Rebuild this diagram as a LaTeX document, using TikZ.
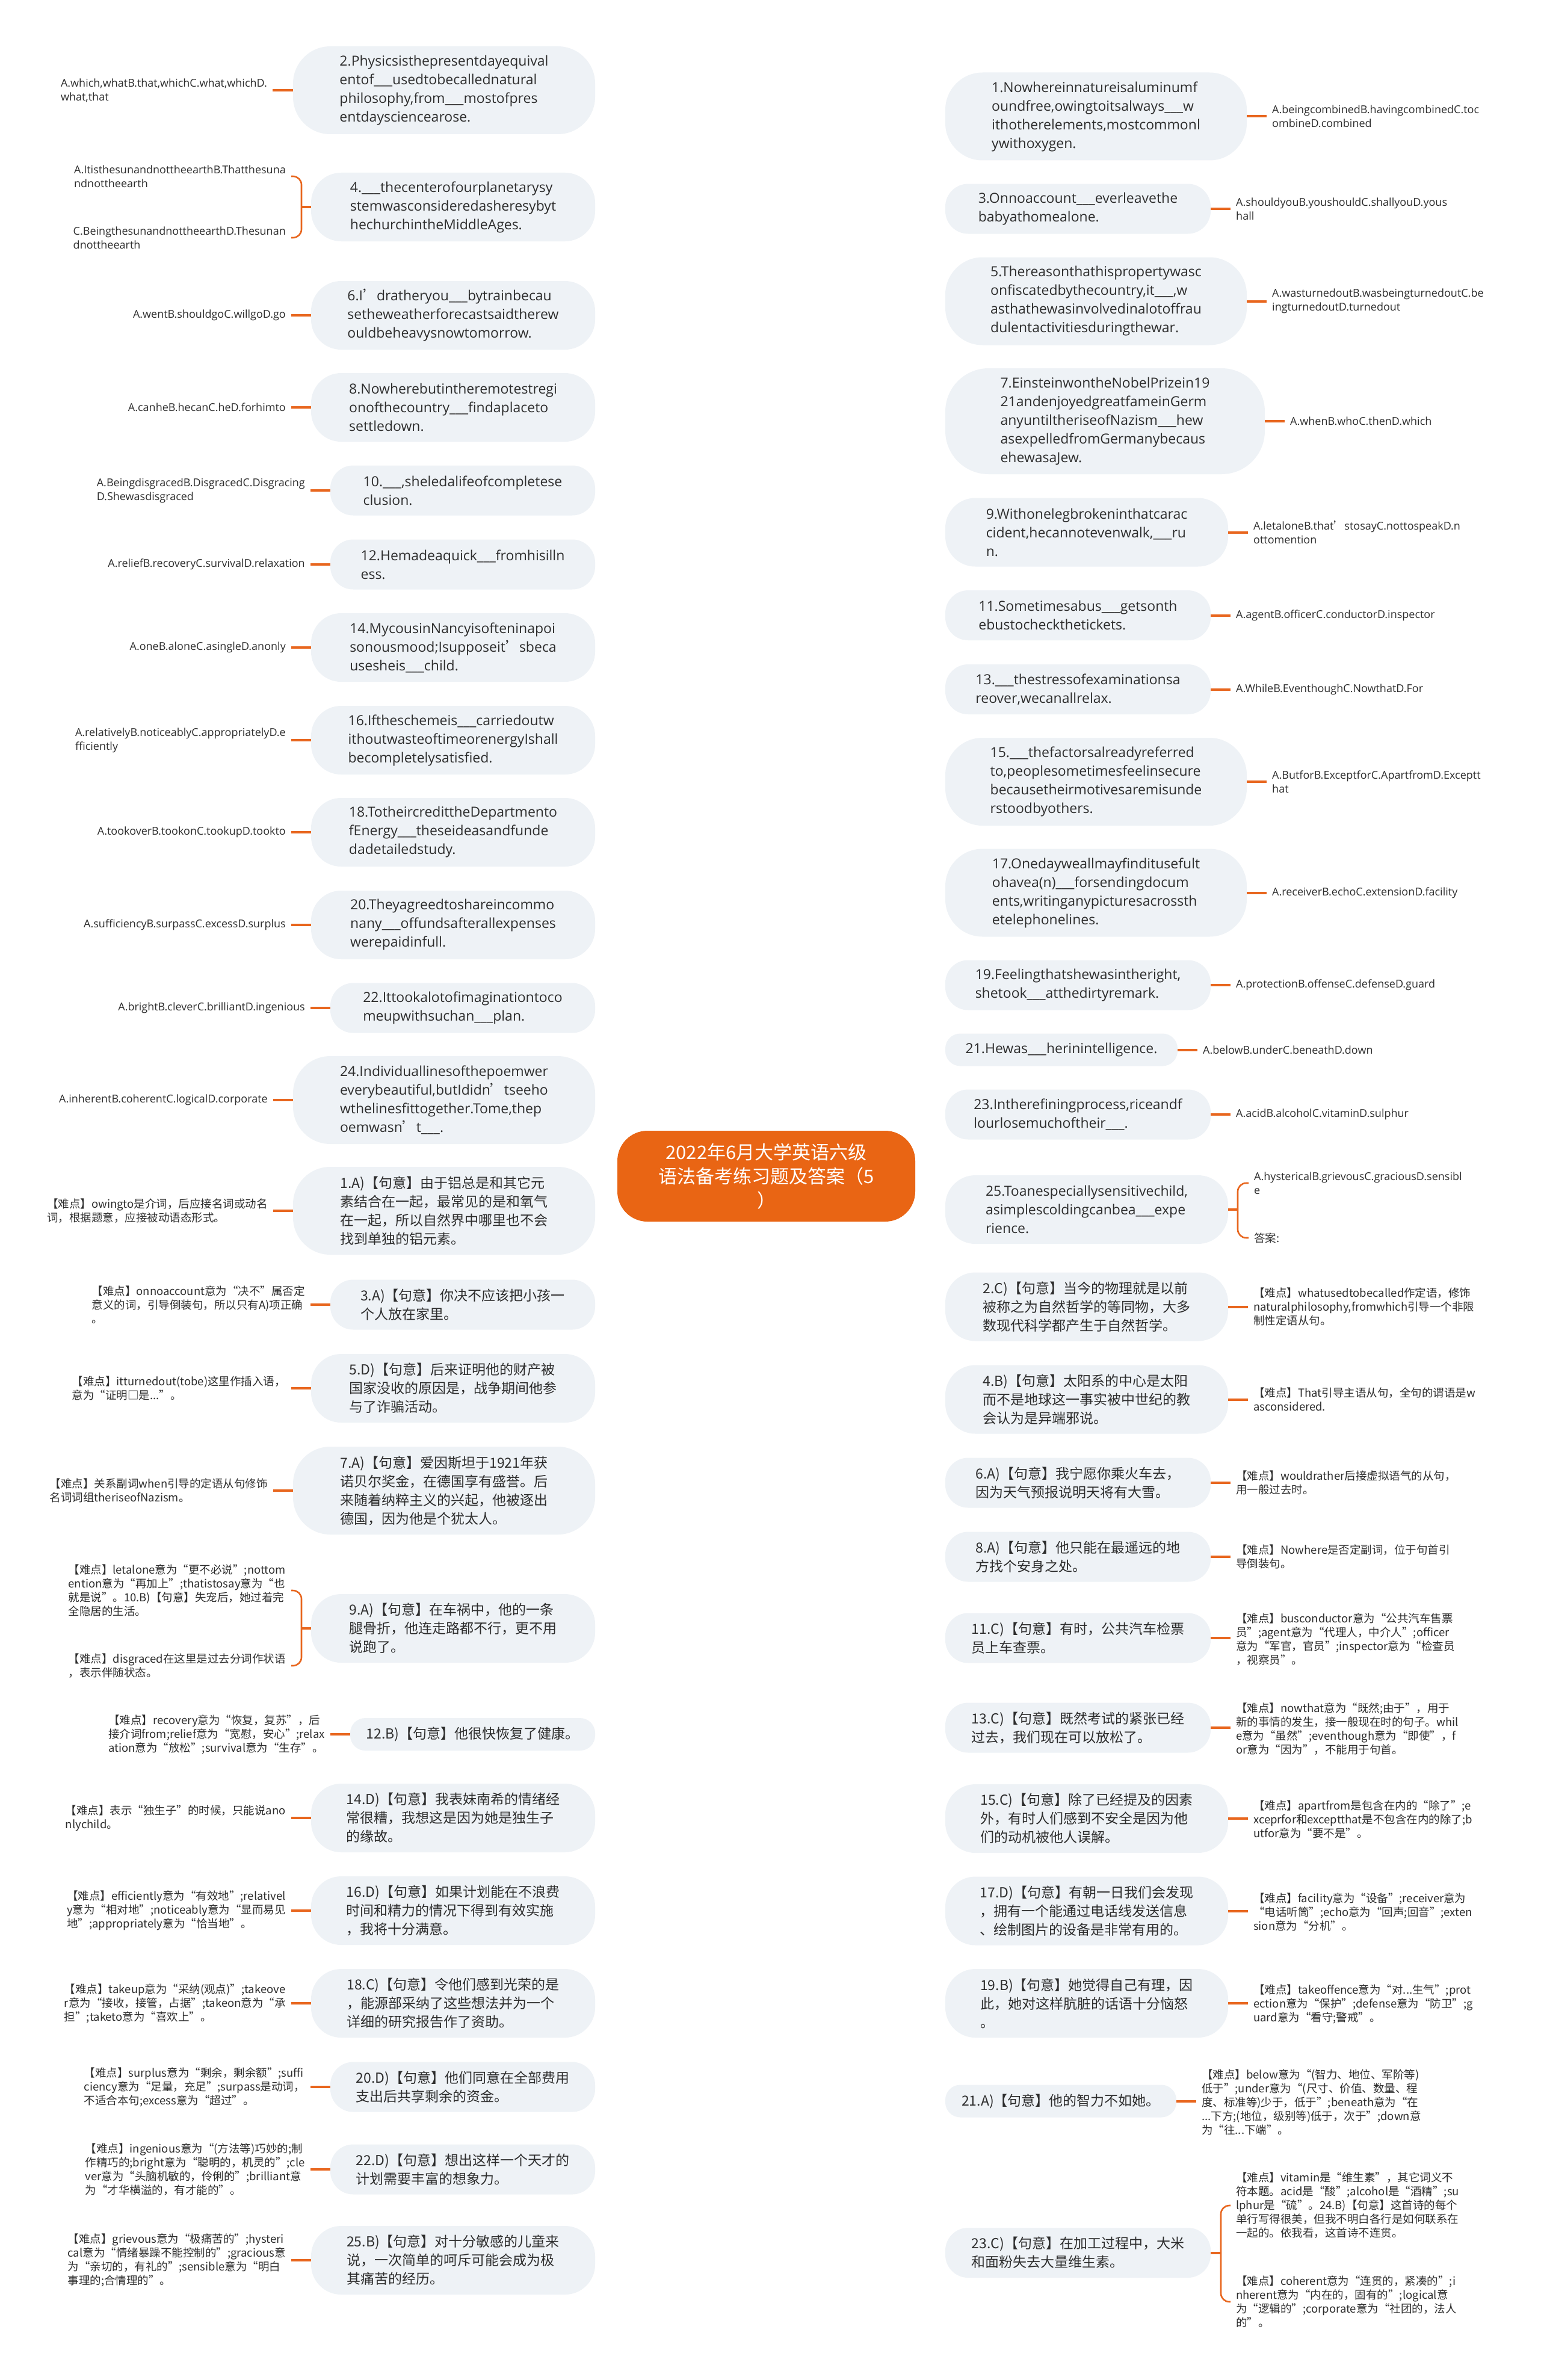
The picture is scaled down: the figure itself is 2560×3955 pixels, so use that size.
\documentclass[tikz,border=0pt]{standalone}
\usepackage{fontspec}
\setmainfont{Noto Sans CJK SC}
\newfontfamily\lat{Open Sans}
\usetikzlibrary{backgrounds}
\definecolor{orange1}{RGB}{232,102,30}
\definecolor{cfill}{RGB}{233,101,20}
\definecolor{boxgray}{RGB}{238,242,246}
\definecolor{txt}{RGB}{45,45,45}
\newcommand\bl{\_\_\_}
\newcommand\ap{{\rmfamily ’}}
\tikzset{
 box/.style={fill=boxgray, draw=none, align=left, text=txt, inner sep=0pt},
 Lone/.style={minimum height=54pt, rounded corners=25pt},
 Ltwo/.style={minimum height=83pt, rounded corners=38pt},
 Lthree/.style={minimum height=114pt, rounded corners=50pt},
 Lfour/.style={minimum height=146pt, rounded corners=62pt},
 Lfive/.style={minimum height=176pt, rounded corners=72pt},
 qf/.style={font=\lat\fontsize{23}{31}\selectfont},
 af/.style={font=\fontsize{23}{31}\selectfont},
 leaf/.style={text=txt, align=left, inner sep=9pt, font=\fontsize{18.5}{23}\selectfont},
 leafq/.style={leaf, font=\lat\fontsize{18}{23}\selectfont},
 branch/.style={draw=orange1, line width=2.6pt},
 stub/.style={draw=orange1, line width=4pt},
 bracel/.style={draw=orange1, line width=2.6pt, rounded corners=14pt},
}
\begin{document}
\begin{tikzpicture}[x=1pt,y=-1pt]
\fill[white] (0,0) rectangle (2560,3955);
\useasboundingbox (0,0) rectangle (2560,3955);

% central node
\node[fill=cfill, text=white, rounded corners=50pt, minimum width=495pt, minimum height=151pt, align=center, inner sep=0pt, font=\fontsize{31}{40}\selectfont] (c) at (1273.5,1954.5) {2022年6月大学英语六级\\语法备考练习题及答案（5\\）};
\coordinate (hubL) at (1110,1955);
\coordinate (hubR) at (1440,1955);

% ---------------- left questions ----------------
\node[box,Lfour,qf,minimum width=502pt] (q2) at (738,150) {2.Physicsisthepresentdayequival\\entof\bl usedtobecallednatural\\philosophy,from\bl mostofpres\\entdaysciencearose.};
\node[leafq,anchor=east] (q2t) at (453,150) {A.which,whatB.that,whichC.what,whichD.\\what,that};
\draw[stub] (q2t.east) -- (q2.west);

\node[box,Lthree,qf,minimum width=472pt] (q4) at (753,344) {4.\bl thecenterofourplanetarysy\\stemwasconsideredasheresybyt\\hechurchintheMiddleAges.};
\node[leafq,anchor=east] (q4a) at (484,293) {A.ItisthesunandnottheearthB.Thatthesuna\\ndnottheearth};
\node[leafq,anchor=east] (q4b) at (484,395) {C.BeingthesunandnottheearthD.Thesunan\\dnottheearth};
\coordinate (q4j) at (501,344);
\draw[stub] (q4j) -- (q4.west);
\draw[bracel] (q4a.east) -| (q4j) |- (q4b.east);

\node[box,Lthree,qf,minimum width=472pt] (q6) at (753,524) {6.I\ap dratheryou\bl bytrainbecau\\setheweatherforecastsaidtherew\\ouldbeheavysnowtomorrow.};
\node[leafq,anchor=east] (q6t) at (484,524) {A.wentB.shouldgoC.willgoD.go};
\draw[stub] (q6t.east) -- (q6.west);

\node[box,Lthree,qf,minimum width=472pt] (q8) at (753,677) {8.Nowherebutintheremotestregi\\onofthecountry\bl findaplaceto\\settledown.};
\node[leafq,anchor=east] (q8t) at (484,677) {A.canheB.hecanC.heD.forhimto};
\draw[stub] (q8t.east) -- (q8.west);

\node[box,Ltwo,qf,minimum width=440pt] (q10) at (769,815) {10.\bl,sheledalifeofcompletese\\clusion.};
\node[leafq,anchor=east] (q10t) at (516,815) {A.BeingdisgracedB.DisgracedC.Disgracing\\D.Shewasdisgraced};
\draw[stub] (q10t.east) -- (q10.west);

\node[box,Ltwo,qf,minimum width=440pt] (q12) at (769,938) {12.Hemadeaquick\bl fromhisilln\\ess.};
\node[leafq,anchor=east] (q12t) at (516,938) {A.reliefB.recoveryC.survivalD.relaxation};
\draw[stub] (q12t.east) -- (q12.west);

\node[box,Lthree,qf,minimum width=472pt] (q14) at (753,1076) {14.MycousinNancyisofteninapoi\\sonousmood;Isupposeit\ap sbeca\\usesheis\bl child.};
\node[leafq,anchor=east] (q14t) at (484,1076) {A.oneB.aloneC.asingleD.anonly};
\draw[stub] (q14t.east) -- (q14.west);

\node[box,Lthree,qf,minimum width=472pt] (q16) at (753,1230) {16.Iftheschemeis\bl carriedoutw\\ithoutwasteoftimeorenergyIshall\\becompletelysatisfied.};
\node[leafq,anchor=east] (q16t) at (484,1230) {A.relativelyB.noticeablyC.appropriatelyD.e\\fficiently};
\draw[stub] (q16t.east) -- (q16.west);

\node[box,Lthree,qf,minimum width=472pt] (q18) at (753,1383) {18.TotheircredittheDepartmento\\fEnergy\bl theseideasandfunde\\dadetailedstudy.};
\node[leafq,anchor=east] (q18t) at (484,1383) {A.tookoverB.tookonC.tookupD.tookto};
\draw[stub] (q18t.east) -- (q18.west);

\node[box,Lthree,qf,minimum width=472pt] (q20) at (753,1537) {20.Theyagreedtoshareincommo\\nany\bl offundsafterallexpenses\\werepaidinfull.};
\node[leafq,anchor=east] (q20t) at (484,1537) {A.sufficiencyB.surpassC.excessD.surplus};
\draw[stub] (q20t.east) -- (q20.west);

\node[box,Ltwo,qf,minimum width=440pt] (q22) at (769,1675) {22.Ittookalotofimaginationtoco\\meupwithsuchan\bl plan.};
\node[leafq,anchor=east] (q22t) at (516,1675) {A.brightB.cleverC.brilliantD.ingenious};
\draw[stub] (q22t.east) -- (q22.west);

\node[box,Lfour,qf,minimum width=502pt] (q24) at (738,1828) {24.Individuallinesofthepoemwer\\everybeautiful,butIdidn\ap tseeho\\wthelinesfittogether.Tome,thep\\oemwasn\ap t\bl.};
\node[leafq,anchor=east] (q24t) at (454,1828) {A.inherentB.coherentC.logicalD.corporate};
\draw[stub] (q24t.east) -- (q24.west);

% ---------------- left answers ----------------
\node[box,Lfour,af,minimum width=502pt] (a1) at (738,2012) {1.A)【句意】由于铝总是和其它元\\素结合在一起，最常见的是和氧气\\在一起，所以自然界中哪里也不会\\找到单独的铝元素。};
\node[leaf,anchor=east] (a1t) at (454,2012) {【难点】owingto是介词，后应接名词或动名\\词，根据题意，应接被动语态形式。};
\draw[stub] (a1t.east) -- (a1.west);

\node[box,Ltwo,af,minimum width=440pt] (a3) at (769,2168) {3.A)【句意】你决不应该把小孩一\\个人放在家里。};
\node[leaf,anchor=east] (a3t) at (516,2168) {【难点】onnoaccount意为“决不”属否定\\意义的词，引导倒装句，所以只有A)项正确\\。};
\draw[stub] (a3t.east) -- (a3.west);

\node[box,Lthree,af,minimum width=472pt] (a5) at (753,2307) {5.D)【句意】后来证明他的财产被\\国家没收的原因是，战争期间他参\\与了诈骗活动。};
\node[leaf,anchor=east] (a5t) at (484,2307) {【难点】itturnedout(tobe)这里作插入语，\\意为“证明□是...”。};
\draw[stub] (a5t.east) -- (a5.west);

\node[box,Lfour,af,minimum width=502pt] (a7) at (738,2477) {7.A)【句意】爱因斯坦于1921年获\\诺贝尔奖金，在德国享有盛誉。后\\来随着纳粹主义的兴起，他被逐出\\德国，因为他是个犹太人。};
\node[leaf,anchor=east] (a7t) at (454,2477) {【难点】关系副词when引导的定语从句修饰\\名词词组theriseofNazism。};
\draw[stub] (a7t.east) -- (a7.west);

\node[box,Lthree,af,minimum width=472pt] (a9) at (753,2706) {9.A)【句意】在车祸中，他的一条\\腿骨折，他连走路都不行，更不用\\说跑了。};
\node[leaf,anchor=east] (a9a) at (484,2643) {【难点】letalone意为“更不必说”;nottom\\ention意为“再加上”;thatistosay意为“也\\就是说”。10.B)【句意】失宠后，她过着完\\全隐居的生活。};
\node[leaf,anchor=east] (a9b) at (484,2768) {【难点】disgraced在这里是过去分词作状语\\，表示伴随状态。};
\coordinate (a9j) at (501,2706);
\draw[stub] (a9j) -- (a9.west);
\draw[bracel] (a9a.east) -| (a9j) |- (a9b.east);

\node[box,Lone,af,minimum width=407pt] (a12) at (785.5,2882) {12.B)【句意】他很快恢复了健康。};
\node[leaf,anchor=east] (a12t) at (549,2882) {【难点】recovery意为“恢复，复苏”，后\\接介词from;relief意为“宽慰，安心”;relax\\ation意为“放松”;survival意为“生存”。};
\draw[stub] (a12t.east) -- (a12.west);

\node[box,Lthree,af,minimum width=472pt] (a14) at (753,3021) {14.D)【句意】我表妹南希的情绪经\\常很糟，我想这是因为她是独生子\\的缘故。};
\node[leaf,anchor=east] (a14t) at (484,3021) {【难点】表示“独生子”的时候，只能说ano\\nlychild。};
\draw[stub] (a14t.east) -- (a14.west);

\node[box,Lthree,af,minimum width=472pt] (a16) at (753,3175) {16.D)【句意】如果计划能在不浪费\\时间和精力的情况下得到有效实施\\，我将十分满意。};
\node[leaf,anchor=east] (a16t) at (484,3175) {【难点】efficiently意为“有效地”;relativel\\y意为“相对地”;noticeably意为“显而易见\\地”;appropriately意为“恰当地”。};
\draw[stub] (a16t.east) -- (a16.west);

\node[box,Lthree,af,minimum width=472pt] (a18) at (753,3329) {18.C)【句意】令他们感到光荣的是\\，能源部采纳了这些想法并为一个\\详细的研究报告作了资助。};
\node[leaf,anchor=east] (a18t) at (484,3329) {【难点】takeup意为“采纳(观点)”;takeove\\r意为“接收，接管，占据”;takeon意为“承\\担”;taketo意为“喜欢上”。};
\draw[stub] (a18t.east) -- (a18.west);

\node[box,Ltwo,af,minimum width=440pt] (a20) at (769,3468) {20.D)【句意】他们同意在全部费用\\支出后共享剩余的资金。};
\node[leaf,anchor=east] (a20t) at (516,3468) {【难点】surplus意为“剩余，剩余额”;suffi\\ciency意为“足量，充足”;surpass是动词，\\不适合本句;excess意为“超过”。};
\draw[stub] (a20t.east) -- (a20.west);

\node[box,Ltwo,af,minimum width=440pt] (a22) at (769,3605) {22.D)【句意】想出这样一个天才的\\计划需要丰富的想象力。};
\node[leaf,anchor=east] (a22t) at (516,3605) {【难点】ingenious意为“(方法等)巧妙的;制\\作精巧的;bright意为“聪明的，机灵的”;cle\\ver意为“头脑机敏的，伶俐的”;brilliant意\\为“才华横溢的，有才能的”。};
\draw[stub] (a22t.east) -- (a22.west);

\node[box,Lthree,af,minimum width=472pt] (a25) at (753,3756) {25.B)【句意】对十分敏感的儿童来\\说，一次简单的呵斥可能会成为极\\其痛苦的经历。};
\node[leaf,anchor=east] (a25t) at (484,3756) {【难点】grievous意为“极痛苦的”;hysteri\\cal意为“情绪暴躁不能控制的”;gracious意\\为“亲切的，有礼的”;sensible意为“明白\\事理的;合情理的”。};
\draw[stub] (a25t.east) -- (a25.west);

% ---------------- right questions ----------------
\node[box,Lfour,qf,minimum width=501pt] (r1) at (1821.5,193.5) {1.Nowhereinnatureisaluminumf\\oundfree,owingtoitsalways\bl w\\ithotherelements,mostcommonl\\ywithoxygen.};
\node[leafq,anchor=west] (r1t) at (2105,193.5) {A.beingcombinedB.havingcombinedC.toc\\ombineD.combined};
\draw[stub] (r1.east) -- (r1t.west);

\node[box,Ltwo,qf,minimum width=441pt] (r3) at (1791.5,347) {3.Onnoaccount\bl everleavethe\\babyathomealone.};
\node[leafq,anchor=west] (r3t) at (2045,347) {A.shouldyouB.youshouldC.shallyouD.yous\\hall};
\draw[stub] (r3.east) -- (r3t.west);

\node[box,Lfour,qf,minimum width=501pt] (r5) at (1821.5,500.5) {5.Thereasonthathispropertywasc\\onfiscatedbythecountry,it\bl,w\\asthathewasinvolvedinalotoffrau\\dulentactivitiesduringthewar.};
\node[leafq,anchor=west] (r5t) at (2105,500.5) {A.wasturnedoutB.wasbeingturnedoutC.be\\ingturnedoutD.turnedout};
\draw[stub] (r5.east) -- (r5t.west);

\node[box,Lfive,qf,minimum width=531pt] (r7) at (1836.5,700) {7.EinsteinwontheNobelPrizein19\\21andenjoyedgreatfameinGerm\\anyuntiltheriseofNazism\bl hew\\asexpelledfromGermanybecaus\\ehewasaJew.};
\node[leafq,anchor=west] (r7t) at (2135,700) {A.whenB.whoC.thenD.which};
\draw[stub] (r7.east) -- (r7t.west);

\node[box,Lthree,qf,minimum width=470pt] (r9) at (1806,884.5) {9.Withonelegbrokeninthatcarac\\cident,hecannotevenwalk,\bl ru\\n.};
\node[leafq,anchor=west] (r9t) at (2074,884.5) {A.letaloneB.that\ap stosayC.nottospeakD.n\\ottomention};
\draw[stub] (r9.east) -- (r9t.west);

\node[box,Ltwo,qf,minimum width=441pt] (r11) at (1791.5,1022.5) {11.Sometimesabus\bl getsonth\\ebustocheckthetickets.};
\node[leafq,anchor=west] (r11t) at (2045,1022.5) {A.agentB.officerC.conductorD.inspector};
\draw[stub] (r11.east) -- (r11t.west);

\node[box,Ltwo,qf,minimum width=441pt] (r13) at (1791.5,1145.5) {13.\bl thestressofexaminationsa\\reover,wecanallrelax.};
\node[leafq,anchor=west] (r13t) at (2045,1145.5) {A.WhileB.EventhoughC.NowthatD.For};
\draw[stub] (r13.east) -- (r13t.west);

\node[box,Lfour,qf,minimum width=501pt] (r15) at (1821.5,1299) {15.\bl thefactorsalreadyreferred\\to,peoplesometimesfeelinsecure\\becausetheirmotivesaremisunde\\rstoodbyothers.};
\node[leafq,anchor=west] (r15t) at (2105,1299) {A.ButforB.ExceptforC.ApartfromD.Exceptt\\hat};
\draw[stub] (r15.east) -- (r15t.west);

\node[box,Lfour,qf,minimum width=501pt] (r17) at (1821.5,1483.5) {17.Onedayweallmayfinditusefult\\ohavea(n)\bl forsendingdocum\\ents,writinganypicturesacrossth\\etelephonelines.};
\node[leafq,anchor=west] (r17t) at (2105,1483.5) {A.receiverB.echoC.extensionD.facility};
\draw[stub] (r17.east) -- (r17t.west);

\node[box,Ltwo,qf,minimum width=441pt] (r19) at (1791.5,1637) {19.Feelingthatshewasintheright,\\shetook\bl atthedirtyremark.};
\node[leafq,anchor=west] (r19t) at (2045,1637) {A.protectionB.offenseC.defenseD.guard};
\draw[stub] (r19.east) -- (r19t.west);

\node[box,Lone,qf,minimum width=386pt] (r21) at (1764,1744.5) {21.Hewas\bl herinintelligence.};
\node[leafq,anchor=west] (r21t) at (1990,1744.5) {A.belowB.underC.beneathD.down};
\draw[stub] (r21.east) -- (r21t.west);

\node[box,Ltwo,qf,minimum width=441pt] (r23) at (1791.5,1852) {23.Intherefiningprocess,riceandf\\lourlosemuchoftheir\bl.};
\node[leafq,anchor=west] (r23t) at (2045,1852) {A.acidB.alcoholC.vitaminD.sulphur};
\draw[stub] (r23.east) -- (r23t.west);

\node[box,Lthree,qf,minimum width=470pt] (r25) at (1806,2010) {25.Toanespeciallysensitivechild,\\asimplescoldingcanbea\bl expe\\rience.};
\node[leafq,anchor=west] (r25a) at (2075,1966) {A.hystericalB.grievousC.graciousD.sensibl\\e};
\node[leaf,anchor=west] (r25b) at (2075,2057) {答案:};
\coordinate (r25j) at (2057,2010);
\draw[stub] (r25.east) -- (r25j);
\draw[bracel] (r25a.west) -| (r25j) |- (r25b.west);

% ---------------- right answers ----------------
\node[box,Lthree,af,minimum width=470pt] (ra2) at (1806,2171.5) {2.C)【句意】当今的物理就是以前\\被称之为自然哲学的等同物，大多\\数现代科学都产生于自然哲学。};
\node[leaf,anchor=west] (ra2t) at (2074,2171.5) {【难点】whatusedtobecalled作定语，修饰\\naturalphilosophy,fromwhich引导一个非限\\制性定语从句。};
\draw[stub] (ra2.east) -- (ra2t.west);

\node[box,Lthree,af,minimum width=470pt] (ra4) at (1806,2325.5) {4.B)【句意】太阳系的中心是太阳\\而不是地球这一事实被中世纪的教\\会认为是异端邪说。};
\node[leaf,anchor=west] (ra4t) at (2074,2325.5) {【难点】That引导主语从句，全句的谓语是w\\asconsidered.};
\draw[stub] (ra4.east) -- (ra4t.west);

\node[box,Ltwo,af,minimum width=441pt] (ra6) at (1791.5,2464) {6.A)【句意】我宁愿你乘火车去，\\因为天气预报说明天将有大雪。};
\node[leaf,anchor=west] (ra6t) at (2045,2464) {【难点】wouldrather后接虚拟语气的从句，\\用一般过去时。};
\draw[stub] (ra6.east) -- (ra6t.west);

\node[box,Ltwo,af,minimum width=441pt] (ra8) at (1791.5,2587) {8.A)【句意】他只能在最遥远的地\\方找个安身之处。};
\node[leaf,anchor=west] (ra8t) at (2045,2587) {【难点】Nowhere是否定副词，位于句首引\\导倒装句。};
\draw[stub] (ra8.east) -- (ra8t.west);

\node[box,Ltwo,af,minimum width=441pt] (ra11) at (1791.5,2722) {11.C)【句意】有时，公共汽车检票\\员上车查票。};
\node[leaf,anchor=west] (ra11t) at (2045,2724) {【难点】busconductor意为“公共汽车售票\\员”;agent意为“代理人，中介人”;officer\\意为“军官，官员”;inspector意为“检查员\\，视察员”。};
\draw[stub] (ra11.east) -- (ra11.east -| ra11t.west);

\node[box,Ltwo,af,minimum width=441pt] (ra13) at (1791.5,2871) {13.C)【句意】既然考试的紧张已经\\过去，我们现在可以放松了。};
\node[leaf,anchor=west] (ra13t) at (2045,2873) {【难点】nowthat意为“既然;由于”，用于\\新的事情的发生，接一般现在时的句子。whil\\e意为“虽然”;eventhough意为“即使”，f\\or意为“因为”，不能用于句首。};
\draw[stub] (ra13.east) -- (ra13.east -| ra13t.west);

\node[box,Lthree,af,minimum width=470pt] (ra15) at (1806,3022) {15.C)【句意】除了已经提及的因素\\外，有时人们感到不安全是因为他\\们的动机被他人误解。};
\node[leaf,anchor=west] (ra15t) at (2074,3023) {【难点】apartfrom是包含在内的“除了”;e\\xceprfor和exceptthat是不包含在内的除了;b\\utfor意为“要不是”。};
\draw[stub] (ra15.east) -- (ra15.east -| ra15t.west);

\node[box,Lthree,af,minimum width=470pt] (ra17) at (1806,3175.5) {17.D)【句意】有朝一日我们会发现\\，拥有一个能通过电话线发送信息\\、绘制图片的设备是非常有用的。};
\node[leaf,anchor=west] (ra17t) at (2074,3177) {【难点】facility意为“设备”;receiver意为\\“电话听筒”;echo意为“回声;回音”;exten\\sion意为“分机”。};
\draw[stub] (ra17.east) -- (ra17.east -| ra17t.west);

\node[box,Lthree,af,minimum width=470pt] (ra19) at (1806,3329) {19.B)【句意】她觉得自己有理，因\\此，她对这样肮脏的话语十分恼怒\\。};
\node[leaf,anchor=west] (ra19t) at (2074,3330) {【难点】takeoffence意为“对...生气”;prot\\ection意为“保护”;defense意为“防卫”;g\\uard意为“看守;警戒”。};
\draw[stub] (ra19.east) -- (ra19.east -| ra19t.west);

\node[box,Lone,af,minimum width=384pt] (ra21) at (1763,3491.5) {21.A)【句意】他的智力不如她。};
\node[leaf,anchor=west] (ra21t) at (1988,3493) {【难点】below意为“(智力、地位、军阶等)\\低于”;under意为“(尺寸、价值、数量、程\\度、标准等)少于，低于”;beneath意为“在\\...下方;(地位，级别等)低于，次于”;down意\\为“往...下端”。};
\draw[stub] (ra21.east) -- (ra21.east -| ra21t.west);

\node[box,Ltwo,af,minimum width=441pt] (ra23) at (1791.5,3743.5) {23.C)【句意】在加工过程中，大米\\和面粉失去大量维生素。};
\node[leaf,anchor=west] (ra23a) at (2045,3665) {【难点】vitamin是“维生素”，其它词义不\\符本题。acid是“酸”;alcohol是“酒精”;su\\lphur是“硫”。24.B)【句意】这首诗的每个\\单行写得很美，但我不明白各行是如何联系在\\一起的。依我看，这首诗不连贯。};
\node[leaf,anchor=west] (ra23b) at (2045,3825) {【难点】coherent意为“连贯的，紧凑的”;i\\nherent意为“内在的，固有的”;logical意\\为“逻辑的”;corporate意为“社团的，法人\\的”。};
\coordinate (ra23j) at (2029,3743.5);
\draw[stub] (ra23.east) -- (ra23j);
\draw[bracel] (ra23a.west) -| (ra23j) |- (ra23b.west);

% ---------------- main branches ----------------
\begin{pgfonlayer}{background}
\foreach \n in {q2,q4,q6,q8,q10,q12,q14,q16,q18,q20,q22,q24,a1,a3,a5,a7,a9,a12,a14,a16,a18,a20,a22,a25}
  \draw[branch] (hubL) .. controls (hubL |- \n.east) .. (\n.east);
\foreach \n in {r1,r3,r5,r7,r9,r11,r13,r15,r17,r19,r21,r23,r25,ra2,ra4,ra6,ra8,ra11,ra13,ra15,ra17,ra19,ra21,ra23}
  \draw[branch] (hubR) .. controls (hubR |- \n.west) .. (\n.west);
\end{pgfonlayer}
\end{tikzpicture}
\end{document}
